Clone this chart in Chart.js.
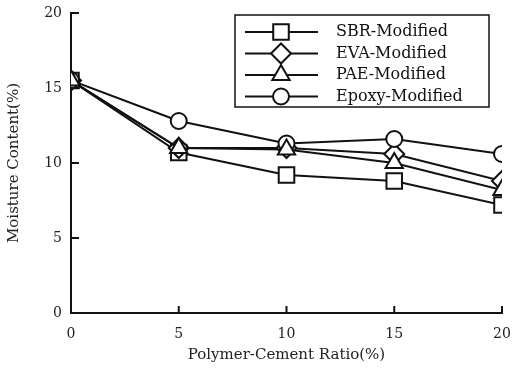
<!DOCTYPE html>
<html>
<head>
<meta charset="utf-8">
<script src="https://cdn.jsdelivr.net/npm/chart.js@4.4.0/dist/chart.umd.min.js"></script>
<style>
  html, body { margin: 0; padding: 0; background: #fff; }
  #wrap { width: 517px; height: 369px; }
</style>
</head>
<body>
<div id="wrap"><canvas id="myChart"></canvas></div>
<script>
// polymer-cement ratio (%)
let ratios = [0, 5, 10, 15, 20];
let sbr = [15.5, 10.7, 9.2, 8.8, 7.2];
let eva = [15.5, 11.0, 11.0, 10.6, 8.8];
let pae = [15.5, 11.0, 10.9, 10.0, 8.2];
let epoxy = [15.5, 12.8, 11.3, 11.6, 10.6];
let yTicks = [0, 5, 10, 15, 20];

const FONT = 'DejaVu Serif';
const RADIUS = { rect: 11, rectRot: 10, triangle: 10, circle: 8 };

function series(label, vals, style, order) {
    return {
        label: label,
        data: vals.map((v, i) => ({ x: ratios[i], y: v })),
        order: order,
        borderColor: '#111',
        borderWidth: 2,
        backgroundColor: '#fff',
        pointStyle: style,
        pointRadius: RADIUS[style],
        pointBorderWidth: 2,
        pointBackgroundColor: '#fff',
        pointBorderColor: '#111',
        tension: 0
    };
}

function noPad(s) {
    s.paddingLeft = 0; s.paddingRight = 0; s.paddingTop = 0; s.paddingBottom = 0;
}

// ticks pointing into the plot, like the original figure
const inwardTicks = {
    id: 'inwardTicks',
    afterDraw(chart) {
        const ctx = chart.ctx, xs = chart.scales.x, ys = chart.scales.y;
        ctx.save();
        ctx.strokeStyle = '#111';
        ctx.lineWidth = 2;
        ctx.beginPath();
        yTicks.forEach(t => {
            const p = ys.getPixelForValue(t);
            ctx.moveTo(xs.left, p); ctx.lineTo(xs.left + 8, p);
        });
        ratios.forEach(t => {
            const p = xs.getPixelForValue(t);
            ctx.moveTo(p, ys.bottom); ctx.lineTo(p, ys.bottom - 7);
        });
        ctx.stroke();
        ctx.restore();
    }
};

// boxed legend with line + marker samples
const boxLegend = {
    id: 'boxLegend',
    afterDraw(chart) {
        const ctx = chart.ctx;
        const x0 = 235, y0 = 15, w = 254, h = 92;
        ctx.save();
        ctx.fillStyle = '#fff';
        ctx.fillRect(x0, y0, w, h);
        ctx.strokeStyle = '#111';
        ctx.lineWidth = 1.5;
        ctx.strokeRect(x0, y0, w, h);
        ctx.font = '16px "' + FONT + '"';
        ctx.textBaseline = 'middle';
        chart.data.datasets.forEach((ds, i) => {
            const y = y0 + 17 + i * 21.5;
            ctx.strokeStyle = '#111';
            ctx.lineWidth = 2;
            ctx.beginPath();
            ctx.moveTo(x0 + 10, y); ctx.lineTo(x0 + 83, y);
            ctx.stroke();
            ctx.fillStyle = '#fff';
            Chart.helpers.drawPoint(ctx, {
                pointStyle: ds.pointStyle, radius: ds.pointRadius, borderWidth: 2
            }, x0 + 46, y);
            ctx.fillStyle = '#111';
            ctx.fillText(ds.label, x0 + 101, y);
        });
        ctx.restore();
    }
};

const ctx = document.getElementById('myChart').getContext('2d');
const chart = new Chart(ctx, {
    type: 'line',
    data: {
        datasets: [
            series('SBR-Modified', sbr, 'rect', 3),
            series('EVA-Modified', eva, 'rectRot', 2),
            series('PAE-Modified', pae, 'triangle', 0),
            series('Epoxy-Modified', epoxy, 'circle', 1)
        ]
    },
    options: {
        responsive: true,
        maintainAspectRatio: false,
        animation: false,
        layout: { padding: { left: 0, right: 15, top: 10, bottom: 0 } },
        plugins: {
            legend: { display: false },
            tooltip: { enabled: false }
        },
        scales: {
            x: {
                type: 'linear',
                min: 0, max: 20,
                afterBuildTicks: s => { s.ticks = ratios.map(v => ({ value: v })); },
                afterFit: s => { s.height = 56; noPad(s); },
                grid: { display: false, drawTicks: false },
                border: { display: true, color: '#111', width: 2 },
                ticks: { color: '#222', padding: 13, font: { family: FONT, size: 14 } },
                title: {
                    display: true, text: 'Polymer-Cement Ratio(%)', color: '#222',
                    font: { family: FONT, size: 15 }, padding: { top: 4, bottom: 5 }
                }
            },
            y: {
                min: 0, max: 20,
                afterBuildTicks: s => { s.ticks = yTicks.map(v => ({ value: v })); },
                afterFit: s => { s.width = 71; noPad(s); },
                grid: { display: false, drawTicks: false },
                border: { display: true, color: '#111', width: 2 },
                ticks: { color: '#222', padding: 9, font: { family: FONT, size: 14 } },
                title: {
                    display: true, text: 'Moisture Content(%)', color: '#222',
                    font: { family: FONT, size: 15 }, padding: { top: 5, bottom: 0 }
                }
            }
        }
    },
    plugins: [inwardTicks, boxLegend]
});
</script>
</body>
</html>
